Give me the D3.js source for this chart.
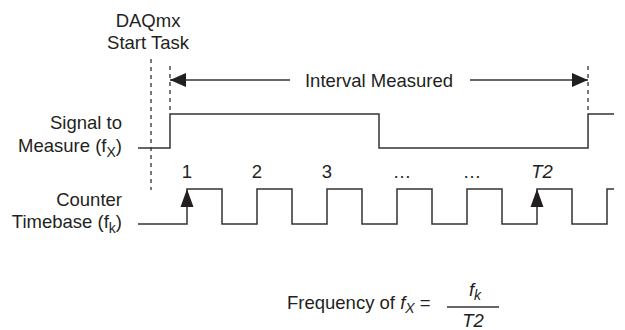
<!DOCTYPE html>
<html>
    <head>
        <meta http-equiv="Content-Type" content="text/html;charset=utf-8">
        <script src="https://d3js.org/d3.v7.min.js"></script>
        <title>Frequency measurement timing</title>
        <style>
            body { margin:0; background:#fff; }
            text { font-family: "Liberation Sans", Arial, Helvetica, sans-serif; font-size:18.5px; fill:#231f20; }
            .trace { fill:none; stroke:#333; stroke-width:1.5; }
            .dash { stroke:#333; stroke-width:1.3; stroke-dasharray:4,4; }
        </style>
    </head>
    <body>
        <svg width="625" height="330"></svg>
    </body>
    <script>
        // time in counter timebase periods, 0 = first counted rising edge
        var timeExtent = [-0.7, 6.1];

        // signal to measure: [time, level]
        var signalSteps = [[-0.7,0],[-0.243,0],[-0.243,1],[2.743,1],[2.743,0],[5.729,0],[5.729,1],[6.1,1]];

        // counter timebase transitions (level after each edge)
        var clockEdges = [-0.7, 0, 0.5, 1, 1.5, 2, 2.5, 3, 3.5, 4, 4.5, 5, 5.5, 6, 6.1];
        var clockLevels = [0, 1, 0, 1, 0, 1, 0, 1, 0, 1, 0, 1, 0, 1, 1];

        var pulseTimes = [0, 1, 2, 3, 4, 5];
        var pulseLabels = ["1", "2", "3", "\u2026", "\u2026", "T2"];
        var countedEdges = [0, 5];

        var startTaskTime = -0.514;
        var intervalStart = -0.243, intervalEnd = 5.729;

        var svg = d3.select("svg");

        var x = d3.scaleLinear().domain(timeExtent).range([138, 614]);
        var ySig = d3.scaleLinear().domain([0, 1]).range([148, 114]);
        var yClk = d3.scaleLinear().domain([0, 1]).range([224, 189]);

        var defs = svg.append("defs");
        defs.append("marker")
            .attr("id", "arrowhead")
            .attr("viewBox", "0 0 16 14")
            .attr("refX", 16).attr("refY", 7)
            .attr("markerWidth", 16).attr("markerHeight", 14)
            .attr("markerUnits", "userSpaceOnUse")
            .attr("orient", "auto-start-reverse")
            .append("path")
                .attr("d", "M0,0 L16,7 L0,14 Z")
                .attr("fill", "#231f20");

        // dashed markers
        svg.append("line").attr("class", "dash")
            .attr("x1", x(startTaskTime)).attr("x2", x(startTaskTime))
            .attr("y1", 59).attr("y2", 190);
        [intervalStart, intervalEnd].forEach(function(t){
            svg.append("line").attr("class", "dash")
                .attr("x1", x(t)).attr("x2", x(t))
                .attr("y1", 66).attr("y2", ySig(1));
        });

        // signal trace
        var line = d3.line();
        svg.append("path").attr("class", "trace")
            .attr("d", line(signalSteps.map(function(d){ return [x(d[0]), ySig(d[1])]; })));

        // clock trace
        var clkPts = [];
        clockEdges.forEach(function(t, i){
            if (i > 0) clkPts.push([x(t), yClk(clockLevels[i-1])]);
            clkPts.push([x(t), yClk(clockLevels[i])]);
        });
        svg.append("path").attr("class", "trace").attr("d", line(clkPts));

        // counted edge arrows
        svg.selectAll("path.cnt")
            .data(countedEdges)
            .enter().append("path")
                .attr("class", "cnt")
                .attr("fill", "#231f20")
                .attr("d", function(t){
                    var cx = x(t), top = yClk(1);
                    return "M" + cx + "," + top + " L" + (cx + 6.5) + "," + (top + 18) + " L" + (cx - 6.5) + "," + (top + 18) + " Z";
                });

        // pulse labels
        svg.selectAll("text.pulse")
            .data(pulseTimes)
            .enter().append("text")
                .attr("class", "pulse")
                .attr("x", function(t, i){ return x(t) + (i < 3 ? 0 : 5); })
                .attr("y", 178)
                .attr("text-anchor", "middle")
                .style("font-style", function(t, i){ return pulseLabels[i] === "T2" ? "italic" : "normal"; })
                .text(function(t, i){ return pulseLabels[i]; });

        // interval measured arrow
        var ay = 80;
        var mid = (x(intervalStart) + x(intervalEnd)) / 2;
        var lbl = svg.append("text")
            .attr("x", mid).attr("y", ay + 7)
            .attr("text-anchor", "middle")
            .text("Interval Measured");
        var half = lbl.node().getComputedTextLength() / 2;
        svg.append("line").attr("class", "trace")
            .attr("x1", mid - half - 15).attr("x2", x(intervalStart))
            .attr("y1", ay).attr("y2", ay)
            .attr("marker-end", "url(#arrowhead)");
        svg.append("line").attr("class", "trace")
            .attr("x1", mid + half + 17).attr("x2", x(intervalEnd))
            .attr("y1", ay).attr("y2", ay)
            .attr("marker-end", "url(#arrowhead)");

        // left labels
        svg.append("text").attr("x", x(startTaskTime) - 3).attr("y", 27).attr("text-anchor", "middle").text("DAQmx");
        svg.append("text").attr("x", x(startTaskTime) - 3).attr("y", 49).attr("text-anchor", "middle").text("Start Task");

        function sideLabel(y1, l1, y2, l2, sub){
            svg.append("text").attr("x", 122).attr("y", y1).attr("text-anchor", "end").text(l1);
            var t = svg.append("text").attr("x", 122).attr("y", y2).attr("text-anchor", "end");
            t.append("tspan").text(l2 + " (f");
            t.append("tspan").attr("dy", 5).style("font-size", "14px").text(sub);
            t.append("tspan").attr("dy", -5).text(")");
        }
        sideLabel(129, "Signal to", 152, "Measure", "X");
        sideLabel(206, "Counter", 228, "Timebase", "k");

        // formula
        var f = svg.append("text").attr("x", 287).attr("y", 309);
        f.append("tspan").text("Frequency of ");
        f.append("tspan").style("font-style", "italic").text("f");
        f.append("tspan").attr("dy", 4).style("font-style", "italic").style("font-size", "14px").text("X");
        f.append("tspan").attr("dy", -4).text(" =");

        svg.append("line").attr("class", "trace")
            .attr("x1", 447).attr("x2", 499).attr("y1", 307).attr("y2", 307);
        var num = svg.append("text").attr("x", 475).attr("y", 296).attr("text-anchor", "middle")
            .style("font-style", "italic");
        num.append("tspan").text("f");
        num.append("tspan").attr("dy", 4).style("font-size", "14px").text("k");
        svg.append("text").attr("x", 473).attr("y", 327).attr("text-anchor", "middle")
            .style("font-style", "italic").text("T2");
    </script>
</html>
